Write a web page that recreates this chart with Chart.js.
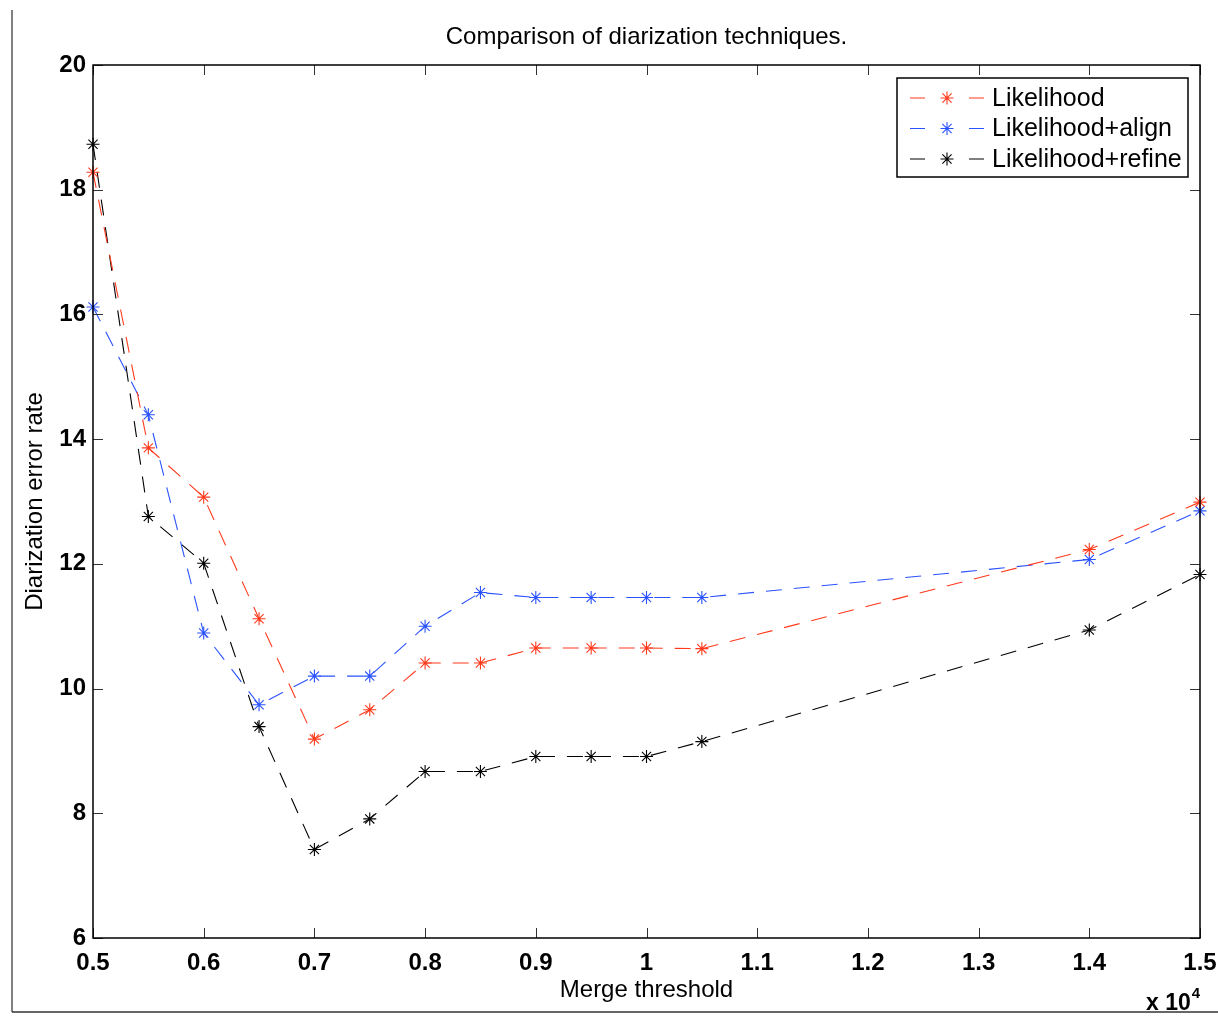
<!DOCTYPE html>
<html>
<head>
<meta charset="utf-8">
<script src="https://cdn.jsdelivr.net/npm/chart.js@4.4.1/dist/chart.umd.min.js"></script>
<style>
  html, body { margin: 0; padding: 0; background: #fff; }
  #wrap { width: 1218px; height: 1018px; position: relative; }
</style>
</head>
<body>
<div id="wrap"><canvas id="diarChart"></canvas></div>
<script>
// merge threshold, raw units (axis shows them as "x 10^4")
const thresholds = [5000, 5500, 6000, 6500, 7000, 7500, 8000, 8500, 9000, 9500, 10000, 10500, 14000, 15000];

// diarization error rate per technique
const likelihood       = [18.28, 13.86, 13.07, 11.12, 9.19, 9.66, 10.41, 10.41, 10.65, 10.65, 10.65, 10.64, 12.23, 12.99];
const likelihoodAlign  = [16.12, 14.39, 10.89, 9.74, 10.20, 10.20, 11.00, 11.54, 11.46, 11.46, 11.46, 11.46, 12.07, 12.85];
const likelihoodRefine = [18.73, 12.76, 12.01, 9.39, 7.42, 7.91, 8.67, 8.67, 8.91, 8.91, 8.91, 9.15, 10.94, 11.83];

const seriesNames = ['Likelihood', 'Likelihood+align', 'Likelihood+refine'];
const seriesColors = ['#ff3a1c', '#2a52ff', '#000000'];

const xTickLabels = ['0.5', '0.6', '0.7', '0.8', '0.9', '1', '1.1', '1.2', '1.3', '1.4', '1.5'];
const yTickLabels = ['6', '8', '10', '12', '14', '16', '18', '20'];

const FONT = "'Liberation Sans', Arial, sans-serif";

function toPoints(values) {
    return thresholds.map((t, i) => ({ x: t, y: values[i] }));
}

function makeDataset(label, values, color) {
    return {
        label: label,
        data: toPoints(values),
        borderColor: color,
        backgroundColor: color,
        borderWidth: 1.1,
        borderDash: [16, 12],
        fill: false,
        tension: 0,
        pointStyle: 'star',
        pointRadius: 6.5,
        pointBorderWidth: 1.1,
        pointBorderColor: color,
        clip: false
    };
}

// draws a MATLAB style '*' marker
function drawStar(ctx, cx, cy, r) {
    ctx.beginPath();
    for (let k = 0; k < 4; k++) {
        const a = k * Math.PI / 4;
        ctx.moveTo(cx - r * Math.cos(a), cy - r * Math.sin(a));
        ctx.lineTo(cx + r * Math.cos(a), cy + r * Math.sin(a));
    }
    ctx.stroke();
}

// axes box, inward ticks, figure edge and the "x 10^4" exponent
const matlabFrame = {
    id: 'matlabFrame',
    afterDatasetsDraw(chart) {
        const { ctx, chartArea: a, scales } = chart;
        const x = scales.x, y = scales.y;
        ctx.save();
        ctx.setLineDash([]);

        // inward tick marks on all four sides
        ctx.strokeStyle = '#333';
        ctx.lineWidth = 1;
        const tl = 10;
        x.ticks.forEach(t => {
            const px = Math.round(x.getPixelForValue(t.value)) + 0.5;
            ctx.beginPath();
            ctx.moveTo(px, a.bottom); ctx.lineTo(px, a.bottom - tl);
            ctx.moveTo(px, a.top); ctx.lineTo(px, a.top + tl);
            ctx.stroke();
        });
        y.ticks.forEach(t => {
            const py = Math.round(y.getPixelForValue(t.value)) + 0.5;
            ctx.beginPath();
            ctx.moveTo(a.left, py); ctx.lineTo(a.left + tl, py);
            ctx.moveTo(a.right, py); ctx.lineTo(a.right - tl, py);
            ctx.stroke();
        });

        // axes box
        ctx.strokeStyle = '#000';
        ctx.lineWidth = 1.5;
        ctx.strokeRect(a.left, a.top, a.right - a.left, a.bottom - a.top);

        // figure edge (left and bottom)
        ctx.strokeStyle = '#808080';
        ctx.lineWidth = 2;
        ctx.beginPath();
        ctx.moveTo(12, 10); ctx.lineTo(12, 1012);
        ctx.stroke();
        ctx.strokeStyle = '#333';
        ctx.lineWidth = 1.5;
        ctx.beginPath();
        ctx.moveTo(12, 1012); ctx.lineTo(1218, 1012);
        ctx.stroke();

        // exponent label
        ctx.fillStyle = '#000';
        ctx.textBaseline = 'alphabetic';
        ctx.textAlign = 'left';
        ctx.font = 'bold 23px ' + FONT;
        const base = 'x 10';
        ctx.fillText(base, 1146, 1010);
        const w = ctx.measureText(base).width;
        ctx.font = 'bold 15px ' + FONT;
        ctx.fillText('4', 1146 + w + 1, 998);
        ctx.restore();
    }
};

// boxed legend in the upper right corner, line - star - line like MATLAB
const boxLegend = {
    id: 'boxLegend',
    afterDraw(chart) {
        const { ctx } = chart;
        const box = { left: 897, top: 78, right: 1188, bottom: 177 };
        ctx.save();
        ctx.setLineDash([]);
        ctx.fillStyle = '#fff';
        ctx.fillRect(box.left, box.top, box.right - box.left, box.bottom - box.top);
        ctx.strokeStyle = '#000';
        ctx.lineWidth = 1.5;
        ctx.strokeRect(box.left, box.top, box.right - box.left, box.bottom - box.top);

        chart.data.datasets.forEach((ds, i) => {
            const rowY = 98 + i * 30.5;
            ctx.strokeStyle = ds.borderColor;
            ctx.lineWidth = 1.1;
            ctx.beginPath();
            ctx.moveTo(910, rowY); ctx.lineTo(925, rowY);
            ctx.moveTo(969, rowY); ctx.lineTo(984, rowY);
            ctx.stroke();
            drawStar(ctx, 947, rowY, 6.5);
            ctx.fillStyle = '#000';
            ctx.font = '25px ' + FONT;
            ctx.textBaseline = 'middle';
            ctx.textAlign = 'left';
            ctx.fillText(ds.label, 992, rowY + 1);
        });
        ctx.restore();
    }
};

const ctx = document.getElementById('diarChart').getContext('2d');

const diarChart = new Chart(ctx, {
    type: 'line',
    data: {
        datasets: [
            makeDataset(seriesNames[0], likelihood, seriesColors[0]),
            makeDataset(seriesNames[1], likelihoodAlign, seriesColors[1]),
            makeDataset(seriesNames[2], likelihoodRefine, seriesColors[2])
        ]
    },
    options: {
        responsive: true,
        maintainAspectRatio: false,
        animation: false,
        layout: { padding: { left: 0, right: 18, top: 0, bottom: 0 } },
        scales: {
            x: {
                type: 'linear',
                min: 5000,
                max: 15000,
                afterFit(scale) {
                    scale.height = 80;
                    scale.paddingLeft = 0;
                    scale.paddingRight = 0;
                },
                ticks: {
                    stepSize: 1000,
                    autoSkip: false,
                    maxRotation: 0,
                    padding: 11,
                    color: '#000',
                    font: { family: FONT, size: 24, weight: 'bold' },
                    callback: (v, i) => xTickLabels[i]
                },
                grid: { display: false, drawTicks: false },
                border: { display: false },
                title: {
                    display: true,
                    text: 'Merge threshold',
                    color: '#000',
                    font: { family: FONT, size: 24 },
                    padding: { top: 0, bottom: 13 }
                }
            },
            y: {
                min: 6,
                max: 20,
                afterFit(scale) { scale.width = 93; },
                ticks: {
                    stepSize: 2,
                    padding: 7,
                    color: '#000',
                    font: { family: FONT, size: 24, weight: 'bold' },
                    callback: (v, i) => yTickLabels[i]
                },
                grid: { display: false, drawTicks: false },
                border: { display: false },
                title: {
                    display: true,
                    text: 'Diarization error rate',
                    color: '#000',
                    font: { family: FONT, size: 24 },
                    padding: { top: 21, bottom: 0 }
                }
            }
        },
        plugins: {
            legend: { display: false },
            tooltip: { enabled: false },
            title: {
                display: true,
                fullSize: false,
                text: 'Comparison of diarization techniques.',
                color: '#000',
                font: { family: FONT, size: 24, weight: 'normal' },
                padding: { top: 23, bottom: 13.2 }
            }
        }
    },
    plugins: [matlabFrame, boxLegend]
});
</script>
</body>
</html>
